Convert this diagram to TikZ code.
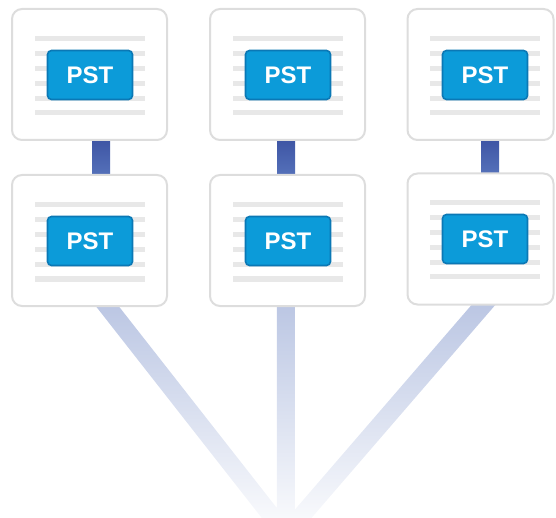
\documentclass[tikz,border=0pt]{standalone}
\usepackage{fontspec}
\newfontfamily\pstfont{Liberation Sans}
\usetikzlibrary{positioning,calc,fadings}
\definecolor{cardline}{HTML}{DDDDDD}
\definecolor{textgrey}{HTML}{E8E8E8}
\definecolor{pstfill}{HTML}{0C9BD9}
\definecolor{pstedge}{HTML}{0B78B5}
\definecolor{bartop}{HTML}{3F56A5}
\definecolor{barbot}{HTML}{5470B9}
\definecolor{fanblue}{HTML}{B6C2E1}
\pgfdeclarelayer{background}
\pgfsetlayers{background,main}
\tikzfading[name=fanfade, top color=transparent!0, bottom color=transparent!100]
\tikzset{
    card/.style = {
        draw=cardline,
        fill=white,
        shape=rectangle,
        minimum width=155,
        minimum height=131,
        line width=2pt,
        rounded corners=10pt
    },
    textline/.style = {
        draw=textgrey,
        line width=5pt
    },
    pst/.style = {
        draw=pstedge,
        fill=pstfill,
        shape=rectangle,
        minimum width=85,
        minimum height=49,
        line width=1.6pt,
        rounded corners=4pt,
        text=white,
        font=\pstfont\bfseries\fontsize{24}{24}\selectfont
    },
    fan/.style = {
        draw=fanblue,
        line width=18pt,
        path fading=fanfade
    }
}

\begin{document}
\begin{tikzpicture}[x=1pt,y=-1pt]
            \useasboundingbox (0,0) rectangle (556,518);

            \node[card] (t1) at (89.5,74.5) {};
            \node[card] (t2) at (287.5,74.5) {};
            \node[card, minimum width=146] (t3) at (480.5,74.5) {};
            \node[card] (b1) at (89.5,240.5) {};
            \node[card] (b2) at (287.5,240.5) {};
            \node[card, minimum width=146] (b3) at (480.5,239) {};

            % page lines and labels
            \foreach \cx/\cy/\nm in {90/76/p1, 288/76/p2, 485/76/p3, 90/242/p4, 288/242/p5, 485/240/p6} {
                \foreach \k in {0,...,5}
                    \draw[textline] (\cx-55,\cy-37+\k*14.8) -- ++(110,0);
                \node[pst] (\nm) at (\cx,\cy-1) {PST};
            }

            \coordinate (hub) at (286,534);
            \coordinate (f1) at (98.6,295);
            \coordinate (f2) at (286,295);
            \coordinate (f3) at (492.4,295);

            \begin{pgfonlayer}{background}
                \shade[top color=bartop, bottom color=barbot] ([xshift=2.5]t1.south) rectangle ([xshift=20.5]b1.north);
                \shade[top color=bartop, bottom color=barbot] ([xshift=-10.5]t2.south) rectangle ([xshift=7.5]t2.south |- b2.north);
                \shade[top color=bartop, bottom color=barbot] ([xshift=0.5]t3.south) rectangle ([xshift=18.5]b3.north);
                \path[fan] (f1) -- (hub) (f2) -- (hub) (f3) -- (hub);
            \end{pgfonlayer}
\end{tikzpicture}
\end{document}
